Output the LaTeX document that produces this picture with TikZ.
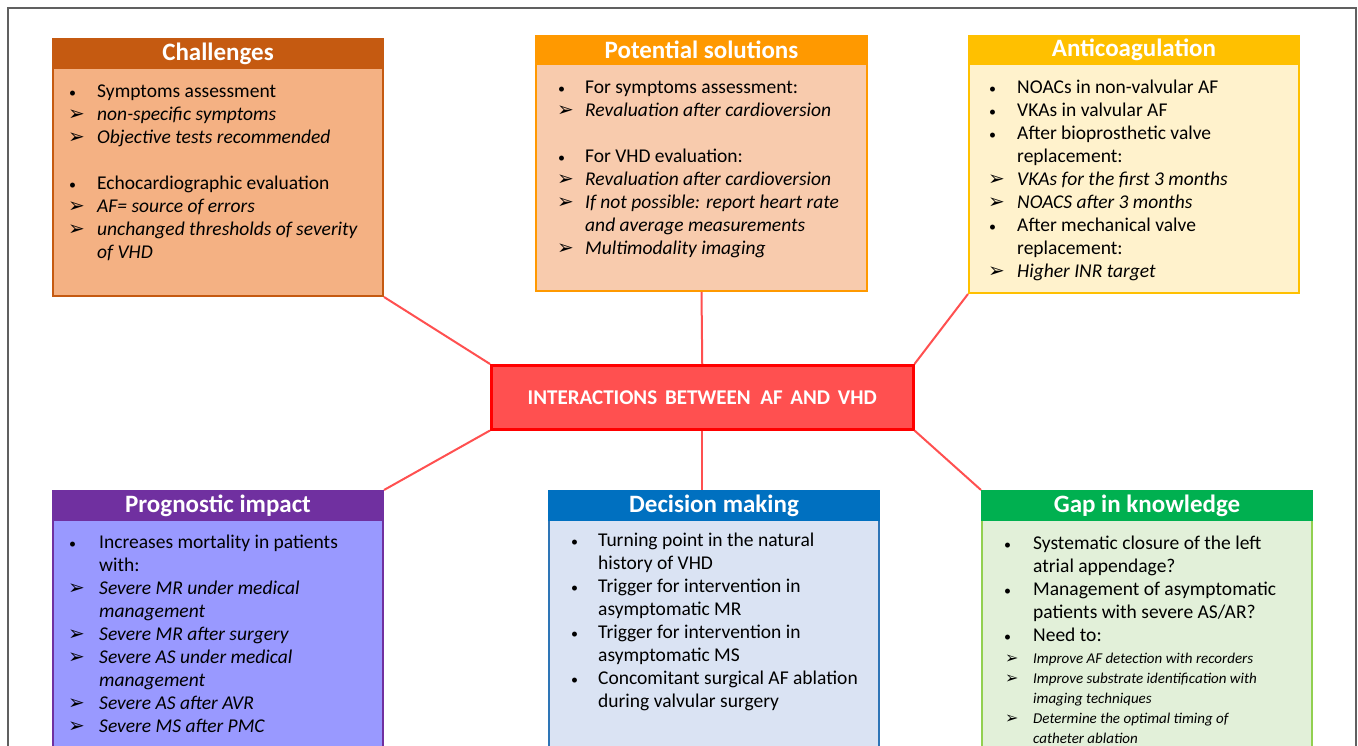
\documentclass[tikz,border=0pt]{standalone}
\usepackage{fontspec}
\setmainfont{Carlito}
\newfontfamily\symfont{DejaVu Sans}
\definecolor{chH}{HTML}{C55A11}\definecolor{chB}{HTML}{F4B183}
\definecolor{psH}{HTML}{FF9900}\definecolor{psB}{HTML}{F8CBAD}
\definecolor{anH}{HTML}{FFC000}\definecolor{anB}{HTML}{FFF2CC}
\definecolor{prH}{HTML}{7030A0}\definecolor{prB}{HTML}{9999FF}
\definecolor{dmH}{HTML}{0070C0}\definecolor{dmB}{HTML}{DAE3F3}\definecolor{dmL}{HTML}{2E75B6}
\definecolor{gkH}{HTML}{00B050}\definecolor{gkB}{HTML}{E2F0D9}\definecolor{gkL}{HTML}{92D050}
\definecolor{ctF}{HTML}{FF5050}\definecolor{ctL}{HTML}{FF0000}
\def\sw{29pt}
\newcommand\B{\makebox[\sw][l]{\hspace{1pt}{\fontsize{14}{14}\selectfont •}}}
\newcommand\A{\makebox[\sw][l]{{\symfont\fontsize{20}{20}\selectfont ➢}}}
\newcommand\As{\makebox[\sw][l]{{\symfont\fontsize{16}{16}\selectfont ➢}}}
\newcommand\C{\hspace*{\sw}}
\tikzset{
  bodybox/.style={anchor=north west, inner sep=0pt, line width=2pt, minimum width=330pt},
  headbox/.style={anchor=north west, inner sep=0pt, line width=2pt, minimum width=330pt, minimum height=29pt,
    text=white, font=\bfseries\fontsize{25}{28}\selectfont},
  bodytext/.style={anchor=north west, inner sep=0pt, align=left, font=\fontsize{19.5}{23}\selectfont},
  smalltext/.style={anchor=north west, inner sep=0pt, align=left, font=\fontsize{15}{20}\selectfont},
  conn/.style={draw=ctF, line width=2pt},
}
\begin{document}
\begin{tikzpicture}[x=1pt,y=-1pt]
\useasboundingbox (0,0) rectangle (1358,746);
\clip (0,0) rectangle (1358,746);
\fill[white] (0,0) rectangle (1358,746);
\draw[gray!75!black, line width=1.5pt] (8,8) rectangle (1356,800);

% Challenges
\node[bodybox, draw=chH, fill=chB, minimum height=257pt] (chal) at (52,38) {};
\node[headbox, draw=chH, fill=chH] (chalh) at (52,38) {Challenges};
\node[bodytext] (chalt) at (68,81) {\strut\B Symptoms assessment\\
\A\textit{non-specific symptoms}\\
\A\textit{Objective tests recommended}\\[23pt]
\B Echocardiographic evaluation\\
\A\textit{AF= source of errors}\\
\A\textit{unchanged thresholds of severity}\\
\C\textit{of VHD}};

% Potential solutions
\node[bodybox, draw=psH, fill=psB, minimum height=255pt, minimum width=331pt] (pot) at (535,35) {};
\node[headbox, draw=psH, fill=psH, minimum width=331pt, minimum height=28pt] (poth) at (535,35) {Potential solutions};
\node[bodytext] (pott) at (557,77) {\def\sw{28pt}\strut\B For symptoms assessment:\\
\def\sw{28pt}\A\textit{Revaluation after cardioversion}\\[23pt]
\def\sw{28pt}\B For VHD evaluation:\\
\def\sw{28pt}\A\textit{Revaluation after cardioversion}\\
\def\sw{28pt}\A\textit{If not possible: report heart rate}\\
\def\sw{28pt}\C\textit{and average measurements}\\
\def\sw{28pt}\A\textit{Multimodality imaging}};

% Anticoagulation
\node[bodybox, draw=anH, fill=anB, minimum height=257pt] (anti) at (968,35) {};
\node[headbox, draw=anH, fill=anH, minimum height=28pt] (antih) at (968,35) {Anticoagulation};
\node[bodytext] (antit) at (988,77) {\strut\B NOACs in non-valvular AF\\
\B VKAs in valvular AF\\
\B After bioprosthetic valve\\
\C replacement:\\
\A\textit{VKAs for the first 3 months}\\
\A\textit{NOACS after 3 months}\\
\B After mechanical valve\\
\C replacement:\\
\A\textit{Higher INR target}};

% Center
\node[anchor=north west, inner sep=0pt, minimum width=422pt, minimum height=64pt, draw=ctL, fill=ctF,
  line width=2.5pt, text=white, font=\bfseries\fontsize{21}{24}\selectfont] (center) at (490,364)
  {INTERACTIONS\hspace{3pt} BETWEEN\ \ AF\hspace{3pt} AND\hspace{3pt} VHD};

% Prognostic impact
\node[bodybox, draw=prH, fill=prB, minimum height=300pt] (prog) at (52,490) {};
\node[headbox, draw=prH, fill=prH] (progh) at (52,490) {Prognostic impact};
\node[bodytext] (progt) at (68,532) {\def\sw{31pt}\strut\B Increases mortality in patients\\
\def\sw{31pt}\C with:\\
\def\sw{31pt}\A\textit{Severe MR under medical}\\
\def\sw{31pt}\C\textit{management}\\
\def\sw{31pt}\A\textit{Severe MR after surgery}\\
\def\sw{31pt}\A\textit{Severe AS under medical}\\
\def\sw{31pt}\C\textit{management}\\
\def\sw{31pt}\A\textit{Severe AS after AVR}\\
\def\sw{31pt}\A\textit{Severe MS after PMC}};

% Decision making
\node[bodybox, draw=dmL, fill=dmB, minimum height=300pt] (dec) at (548,490) {};
\node[headbox, draw=dmH, fill=dmH] (dech) at (548,490) {Decision making};
\node[bodytext] (dect) at (570,530) {\def\sw{28pt}\strut\B Turning point in the natural\\
\def\sw{28pt}\C history of VHD\\
\def\sw{28pt}\B Trigger for intervention in\\
\def\sw{28pt}\C asymptomatic MR\\
\def\sw{28pt}\B Trigger for intervention in\\
\def\sw{28pt}\C asymptomatic MS\\
\def\sw{28pt}\B Concomitant surgical AF ablation\\
\def\sw{28pt}\C during valvular surgery};

% Gap in knowledge
\node[bodybox, draw=gkL, fill=gkB, minimum height=300pt] (gap) at (981,490) {};
\node[headbox, draw=gkH, fill=gkH] (gaph) at (981,490) {Gap in knowledge};
\node[bodytext] (gapt) at (1003,533) {\def\sw{30pt}\strut\B Systematic closure of the left\\
\def\sw{30pt}\C atrial appendage?\\
\def\sw{30pt}\B Management of asymptomatic\\
\def\sw{30pt}\C patients with severe AS/AR?\\
\def\sw{30pt}\B Need to:};
\node[smalltext] (gaps) at (1005,649) {\def\sw{28pt}\strut\As\textit{Improve AF detection with recorders}\\
\def\sw{28pt}\As\textit{Improve substrate identification with}\\
\def\sw{28pt}\C\textit{imaging techniques}\\
\def\sw{28pt}\As\textit{Determine the optimal timing of}\\
\def\sw{28pt}\C\textit{catheter ablation}};

% Connectors
\draw[conn] (chal.south east) -- (center.north west);
\draw[conn] (pot.south) -- (center.north);
\draw[conn] (anti.south west) -- (center.north east);
\draw[conn] (center.south west) -- (prog.north east);
\draw[conn] (center.south) -- (center.south |- dec.north);
\draw[conn] (center.south east) -- (gap.north west);
\end{tikzpicture}
\end{document}
